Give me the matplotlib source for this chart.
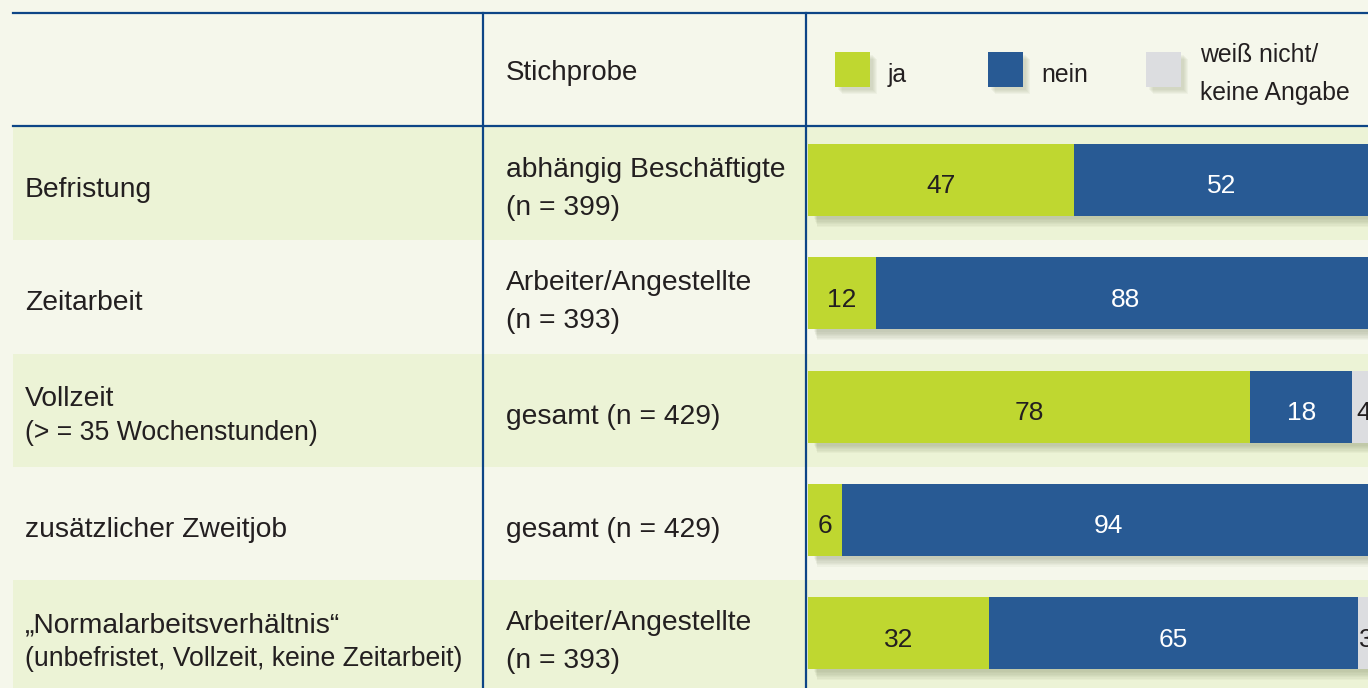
import matplotlib
matplotlib.use("Agg")
import matplotlib.pyplot as plt
from matplotlib.patches import Rectangle
from matplotlib.transforms import ScaledTranslation

plt.rcParams['font.family'] = ['Liberation Sans', 'DejaVu Sans']

# data
labels = ["Befristung", "Zeitarbeit", "Vollzeit", "zusätzlicher Zweitjob",
          "„Normalarbeitsverhältnis“"]
sublabels = ["", "", "(> = 35 Wochenstunden)", "",
             "(unbefristet, Vollzeit, keine Zeitarbeit)"]
samples = ["abhängig Beschäftigte\n(n = 399)", "Arbeiter/Angestellte\n(n = 393)",
           "gesamt (n = 429)", "gesamt (n = 429)",
           "Arbeiter/Angestellte\n(n = 393)"]
ja = [47, 12, 78, 6, 32]
nein = [52, 88, 18, 94, 65]
weiss = [1, 0, 4, 0, 3]
series_names = ["ja", "nein", "weiß nicht/\nkeine Angabe"]

# colours
bg_col = '#F5F7EB'
row_col = '#ECF3D6'
line_col = '#0D4586'
text_col = '#231F20'
colors = ['#BFD730', '#285A94', '#DCDDE0']
num_cols = [text_col, 'white', text_col]

W, H = 1368, 688
fig = plt.figure(figsize=(W/100, H/100), dpi=100, facecolor=bg_col)

# background axes in pixel units (table layout)
bg = fig.add_axes([0, 0, 1, 1])
bg.set_xlim(0, W)
bg.set_ylim(H, 0)
bg.axis('off')

row_top = 127
row_h = 113.3
for i in range(len(labels)):
    y0 = row_top + i*row_h
    if i % 2 == 0:
        bg.add_patch(Rectangle((13, y0), W - 13, row_h, color=row_col, lw=0, zorder=0))
    # first column
    if sublabels[i]:
        bg.text(25, y0 + 52, labels[i], fontsize=20.3, color=text_col, va='baseline')
        bg.text(25, y0 + 86, sublabels[i], fontsize=19.2, color=text_col, va='baseline')
    else:
        bg.text(25, y0 + 70, labels[i], fontsize=20.3, color=text_col, va='baseline')
    # second column
    lines = samples[i].split("\n")
    if len(lines) == 2:
        bg.text(506, y0 + 50, lines[0], fontsize=20.3, color=text_col, va='baseline')
        bg.text(506, y0 + 88, lines[1], fontsize=20.3, color=text_col, va='baseline')
    else:
        bg.text(506, y0 + 70, lines[0], fontsize=20.3, color=text_col, va='baseline')

# grid lines
bg.plot([13, W], [13, 13], color=line_col, lw=1.6, zorder=3)
bg.plot([13, W], [126, 126], color=line_col, lw=1.6, zorder=3)
bg.plot([483, 483], [13, H], color=line_col, lw=1.6, zorder=3)
bg.plot([806, 806], [13, H], color=line_col, lw=1.6, zorder=3)

# header
bg.text(506, 80, "Stichprobe", fontsize=20, color=text_col, va='baseline')
leg_x = [835, 988, 1146]
for k, name in enumerate(series_names):
    for s in range(5):
        bg.add_patch(Rectangle((leg_x[k] + 3 + s, 52 + 3 + s), 35, 35,
                               color='#8a9470', alpha=0.07, lw=0, zorder=1))
    bg.add_patch(Rectangle((leg_x[k], 52), 35, 35, color=colors[k], lw=0, zorder=2))
    parts = name.split("\n")
    if len(parts) == 2:
        bg.text(leg_x[k] + 54, 62, parts[0], fontsize=17.8, color=text_col, va='baseline')
        bg.text(leg_x[k] + 54, 100, parts[1], fontsize=17.8, color=text_col, va='baseline')
    else:
        bg.text(leg_x[k] + 53, 82, parts[0], fontsize=17.8, color=text_col, va='baseline')

# bar axes (the 100% scale runs past the right edge, as in the cropped original)
x0 = 808
px_per_unit = 5.67
xmax = (W - x0)/px_per_unit
ax = fig.add_axes([x0/W, 0, (W - x0)/W, (H - row_top)/H])
ax.set_xlim(0, xmax)
ax.set_ylim((H - row_top)/row_h, 0)
ax.axis('off')
ax.patch.set_alpha(0)

ypos = [i + 53/row_h for i in range(len(labels))]
bar_h = 72/row_h
totals = [a + b + c for a, b, c in zip(ja, nein, weiss)]

# soft drop shadow below the bars
for s in range(7):
    tr = ax.transData + ScaledTranslation((6 + s*0.5)/100, -(3 + s*1.3)/100, fig.dpi_scale_trans)
    ax.barh(ypos, totals, height=bar_h, color='#76805c', alpha=0.06,
            lw=0, transform=tr, zorder=1)

left = [0]*len(labels)
for k, vals in enumerate([ja, nein, weiss]):
    ax.barh(ypos, vals, left=left, height=bar_h, color=colors[k], lw=0, zorder=2)
    for i, v in enumerate(vals):
        xc = left[i] + v/2
        if v > 0 and xc < xmax:
            ax.annotate(str(v), (xc, ypos[i]), xytext=(0, -9.6),
                        textcoords='offset points', ha='center', va='baseline',
                        fontsize=19, color=num_cols[k], zorder=3,
                        annotation_clip=False)
    left = [l + v for l, v in zip(left, vals)]

fig.savefig("out.png", dpi=100, facecolor=bg_col)
